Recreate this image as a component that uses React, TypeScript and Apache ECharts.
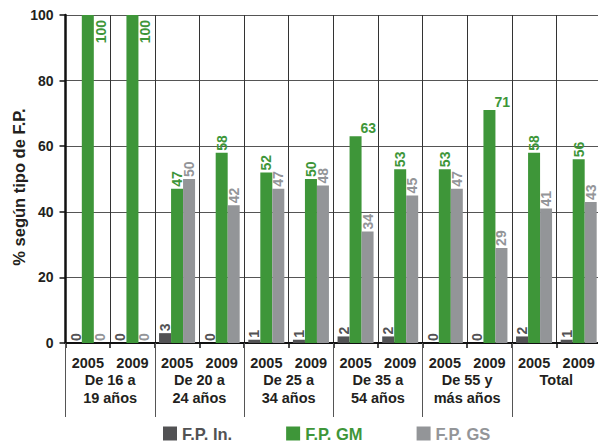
import React, { useEffect, useRef } from "react";
import * as echarts from "echarts";

const years = ["2005", "2009", "2005", "2009", "2005", "2009", "2005", "2009", "2005", "2009", "2005", "2009"];
const groups = ["De 16 a\n19 años", "De 20 a\n24 años", "De 25 a\n34 años", "De 35 a\n54 años", "De 55 y\nmás años", "Total"];
const fpIn = [0, 0, 3, 0, 1, 1, 2, 2, 0, 0, 2, 1];
const fpGM = [100, 100, 47, 58, 52, 50, 63, 53, 53, 71, 58, 56];
const fpGS = [0, 0, 50, 42, 47, 48, 34, 45, 47, 29, 41, 43];
const yTicks = [0, 20, 40, 60, 80, 100];

const FONT = "'Liberation Sans', Arial, Helvetica, sans-serif";
const C_IN = "#525254";
const C_GM = "#3e9639";
const C_GS = "#939598";
const TXT = "#231f20";

export default function App() {
  const ref = useRef<HTMLDivElement>(null);
  useEffect(() => {
    if (!ref.current) return;
    const chart = echarts.init(ref.current, null, { renderer: "svg" });
    const cats = years.map((y, i) => `${y}#${i}`);
    const baseLabel = (color: string) => ({
      show: true,
      position: "top",
      rotate: 90,
      align: "left",
      verticalAlign: "middle",
      distance: 2,
      color,
      fontFamily: FONT,
      fontWeight: "bold",
      fontSize: 14,
    });
    const gmData = fpGM.map((v) => {
      if (v >= 100) {
        return {
          value: v,
          label: { position: [19, 5], align: "right", verticalAlign: "middle", rotate: 90 },
        };
      }
      if (v >= 60) {
        return {
          value: v,
          label: { position: [11, -1], align: "left", verticalAlign: "bottom", rotate: 0 },
        };
      }
      return v;
    });
    const common = { type: "bar", barWidth: 12, barGap: "0%", barCategoryGap: "19%", xAxisIndex: 0, yAxisIndex: 0 };
    chart.setOption({
      animation: false,
      textStyle: { fontFamily: FONT },
      grid: { left: 65.5, right: -3, top: 15, bottom: 100, outerBoundsMode: "none", containLabel: false },
      legend: {
        left: 158,
        top: 420,
        itemWidth: 14,
        itemHeight: 14,
        itemGap: 54,
        icon: "rect",
        textStyle: { fontFamily: FONT, fontWeight: "bold", fontSize: 16.5 },
        data: [
          { name: "F.P. In.", textStyle: { color: C_IN } },
          { name: "F.P. GM", textStyle: { color: C_GM } },
          { name: "F.P. GS", textStyle: { color: C_GS } },
        ],
      },
      xAxis: [
        {
          type: "category",
          data: cats,
          position: "bottom",
          axisLine: { show: true, lineStyle: { color: "#111", width: 2 } },
          axisTick: { show: true, length: 5, interval: 0, lineStyle: { color: "#111", width: 1.5 } },
          splitLine: { show: true, interval: 0, lineStyle: { color: "#333", width: 1 } },
          axisLabel: {
            interval: 0,
            margin: 12,
            color: TXT,
            fontFamily: FONT,
            fontWeight: "bold",
            fontSize: 14.5,
            formatter: (v: string) => v.split("#")[0],
          },
        },
        {
          type: "category",
          data: groups,
          position: "bottom",
          offset: 0,
          axisLine: { show: false },
          axisTick: { show: true, length: 74, interval: 0, lineStyle: { color: "#555", width: 1 } },
          splitLine: { show: false },
          axisLabel: {
            interval: 0,
            margin: 28,
            lineHeight: 18,
            color: TXT,
            fontFamily: FONT,
            fontWeight: "bold",
            fontSize: 14.5,
          },
        },
      ],
      yAxis: {
        type: "value",
        min: yTicks[0],
        max: yTicks[yTicks.length - 1],
        interval: 20,
        name: "% según tipo de F.P.",
        nameLocation: "middle",
        nameGap: 38,
        nameMoveOverlap: false,
        nameTextStyle: { color: TXT, fontFamily: FONT, fontWeight: "bold", fontSize: 16.5, padding: [0, 16, 0, 0] },
        axisLine: { show: true, lineStyle: { color: "#111", width: 2.5 } },
        axisTick: { show: true, length: 6, lineStyle: { color: "#111", width: 1.5 } },
        splitLine: { show: true, lineStyle: { color: "#555", width: 1 } },
        axisLabel: { margin: 12, color: TXT, fontFamily: FONT, fontWeight: "bold", fontSize: 14 },
      },
      series: [
        { ...common, name: "F.P. In.", data: fpIn, itemStyle: { color: C_IN }, label: baseLabel(C_IN) },
        { ...common, name: "F.P. GM", data: gmData, itemStyle: { color: C_GM }, label: baseLabel(C_GM) },
        { ...common, name: "F.P. GS", data: fpGS, itemStyle: { color: C_GS }, label: baseLabel(C_GS) },
      ],
    });
    return () => chart.dispose();
  }, []);
  return (
    <div
      ref={ref}
      style={{ position: "absolute", left: 0, top: 0, width: 598, height: 443, background: "#fff" }}
    />
  );
}
